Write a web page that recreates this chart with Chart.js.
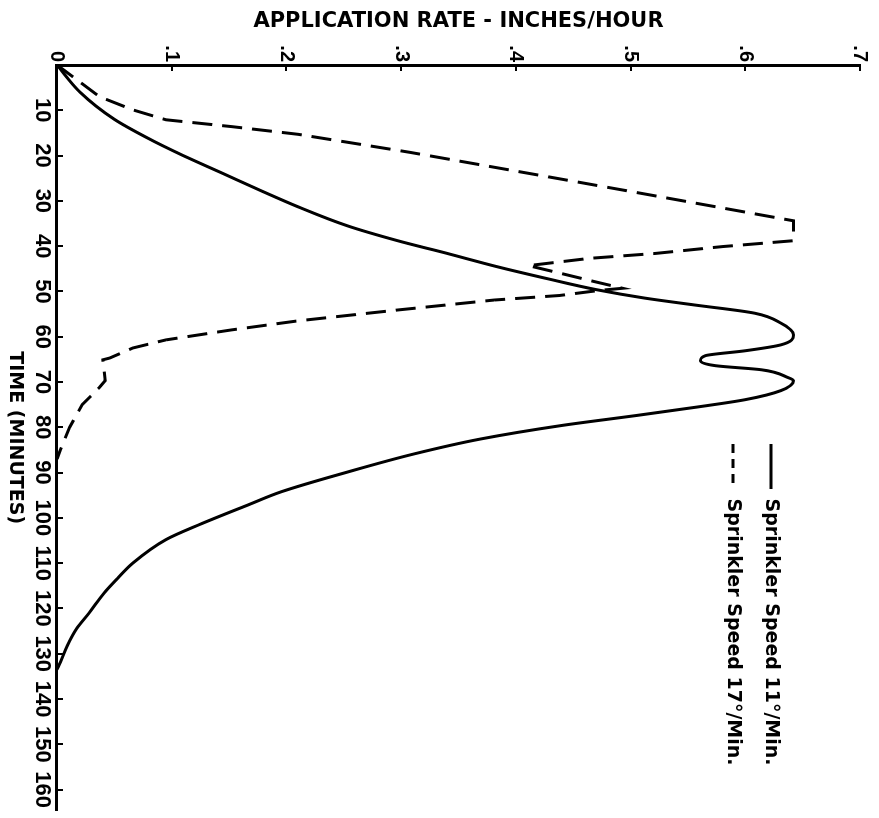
<!DOCTYPE html>
<html><head><meta charset="utf-8">
<script src="https://cdn.jsdelivr.net/npm/chart.js@4.4.1/dist/chart.umd.min.js"></script>
<style>
html,body{margin:0;padding:0;background:#fff;overflow:hidden;width:879px;height:818px;}
#wrap{position:absolute;left:0;top:0;width:818px;height:879px;transform-origin:0 0;transform:translateX(879px) rotate(90deg);background:#fff;}
canvas{display:block;}
</style></head><body>
<div id="wrap"><canvas id="c" width="818" height="879"></canvas></div>
<script>
// ---- data ----
const seriesNames = ['Sprinkler Speed 11°/Min.', 'Sprinkler Speed 17°/Min.'];
const timeTicks = [0,10,20,30,40,50,60,70,80,90,100,110,120,130,140,150,160];
const timeTickLabels = ['','10','20','30','40','50','60','70','80','90','100','110','120','130','140','150','160'];
const rateTicks = [0,0.1,0.2,0.3,0.4,0.5,0.6,0.7];
const rateTickLabels = ['0','.1','.2','.3','.4','.5','.6','.7'];

// Sprinkler speed 11°/min (solid)
const timeSolid = [0,6,12,16,20,24,28,31.3,35.5,38.8,41.6,44.5,47.1,49.6,51.5,53.0,54.8,57.0,59.6,61.8,63.1,64.2,65.3,66.4,67.3,69.0,69.7,71.9,73.9,75.6,77.4,79.6,82.6,85.9,89.9,94.2,97.1,101.5,104.8,110.0,113.3,116.6,121.0,124.5,128.2,131.9,133.5];
const rateSolid = [0,0.020,0.050,0.078,0.110,0.145,0.180,0.210,0.253,0.297,0.340,0.383,0.426,0.470,0.513,0.556,0.608,0.631,0.642,0.631,0.600,0.565,0.561,0.574,0.614,0.637,0.642,0.631,0.600,0.556,0.505,0.440,0.369,0.311,0.253,0.196,0.167,0.124,0.095,0.066,0.053,0.041,0.028,0.017,0.009,0.003,0];

// Sprinkler speed 17°/min (dashed)
const timeDashed = [0,7.0,9.9,12.1,13.6,15.3,19.3,24.5,27.6,34.4,38.8,40.1,41.6,42.7,44.3,46.0,47.8,49.3,49.8,50.9,51.9,54.1,56.5,58.5,60.7,62.5,64.7,65.1,69.7,71.2,75.0,80.0,85.0,87.0];
const rateDashed = [0,0.037,0.066,0.095,0.152,0.210,0.308,0.424,0.493,0.642,0.642,0.580,0.522,0.464,0.411,0.439,0.468,0.493,0.472,0.438,0.381,0.297,0.210,0.152,0.095,0.066,0.046,0.040,0.042,0.037,0.022,0.011,0.003,0];

const pts = (xs, ys) => xs.map((x, i) => ({x: x, y: ys[i]}));

Chart.defaults.color = '#000';
Chart.defaults.font.family = 'DejaVu Sans';

const legendPlace = {
  id: 'legendPlace',
  afterLayout(chart) {
    const lg = chart.legend;
    if (!lg) return;
    const w = lg.right - lg.left, h = lg.bottom - lg.top;
    lg.left = 425; lg.top = 79.5;
    lg.right = lg.left + w; lg.bottom = lg.top + h;
  }
};

const axisFontTime = {family: 'Liberation Sans', size: 22, weight: 'bold', lineHeight: 1};
const axisFontRate = {family: 'Liberation Sans', size: 20, weight: 'bold', lineHeight: 1};

new Chart(document.getElementById('c'), {
  type: 'line',
  data: {
    datasets: [
      {
        label: seriesNames[0],
        data: pts(timeSolid, rateSolid),
        borderColor: '#000', backgroundColor: '#000',
        borderWidth: 3, pointRadius: 0,
        cubicInterpolationMode: 'monotone', clip: false
      },
      {
        label: seriesNames[1],
        data: pts(timeDashed, rateDashed),
        borderColor: '#000', backgroundColor: '#000',
        borderWidth: 3, pointRadius: 0, tension: 0,
        borderDash: [20, 10], clip: false
      }
    ]
  },
  options: {
    responsive: false,
    animation: false,
    devicePixelRatio: 1,
    layout: {padding: {left: 0, right: 2, top: 14, bottom: 0}},
    plugins: {
      tooltip: {enabled: false},
      legend: {
        position: 'chartArea',
        align: 'start',
        labels: {
          usePointStyle: true,
          pointStyle: 'line',
          pointStyleWidth: 45,
          padding: 19,
          color: '#000',
          font: {family: 'DejaVu Sans', size: 19, weight: 'bold'},
          generateLabels(chart) {
            const items = Chart.defaults.plugins.legend.labels.generateLabels(chart);
            items.forEach((it, i) => { if (i === 1) it.lineDash = [9, 6]; });
            return items;
          }
        }
      }
    },
    scales: {
      x: {
        type: 'linear', position: 'bottom', min: 0, max: 164.6,
        afterBuildTicks: s => { s.ticks = timeTicks.map(v => ({value: v})); },
        afterFit: s => { s.height = 57; },
        border: {display: true, color: '#000', width: 3},
        grid: {display: true, drawOnChartArea: false, drawTicks: true, tickLength: -6, color: '#000', lineWidth: 2},
        ticks: {
          autoSkip: false, maxRotation: 0, minRotation: 0, padding: 10, color: '#000',
          font: axisFontTime,
          callback: v => { const i = timeTicks.indexOf(v); return i >= 0 ? timeTickLabels[i] : ''; }
        },
        title: {display: true, text: 'TIME (MINUTES)', color: '#000',
          font: {family: 'DejaVu Sans', size: 19, weight: 'bold', lineHeight: 1},
          padding: {top: 0, bottom: 5.5}}
      },
      y: {
        type: 'linear', position: 'left', min: 0, max: 0.7,
        afterBuildTicks: s => { s.ticks = rateTicks.map(v => ({value: v})); },
        afterFit: s => { s.width = 65; },
        border: {display: true, color: '#000', width: 3},
        grid: {display: true, drawOnChartArea: false, drawTicks: true, tickLength: -6, color: '#000', lineWidth: 2},
        ticks: {
          padding: 9, color: '#000', font: axisFontRate,
          callback: v => { const i = rateTicks.findIndex(t => Math.abs(t - v) < 1e-9); return i >= 0 ? rateTickLabels[i] : ''; }
        },
        title: {display: true, text: 'APPLICATION RATE - INCHES/HOUR', color: '#000',
          font: {family: 'DejaVu Sans', size: 21, weight: 'bold', lineHeight: 1},
          padding: {top: 11.5, bottom: 0}}
      }
    }
  },
  plugins: [legendPlace]
});
</script>
</body></html>
